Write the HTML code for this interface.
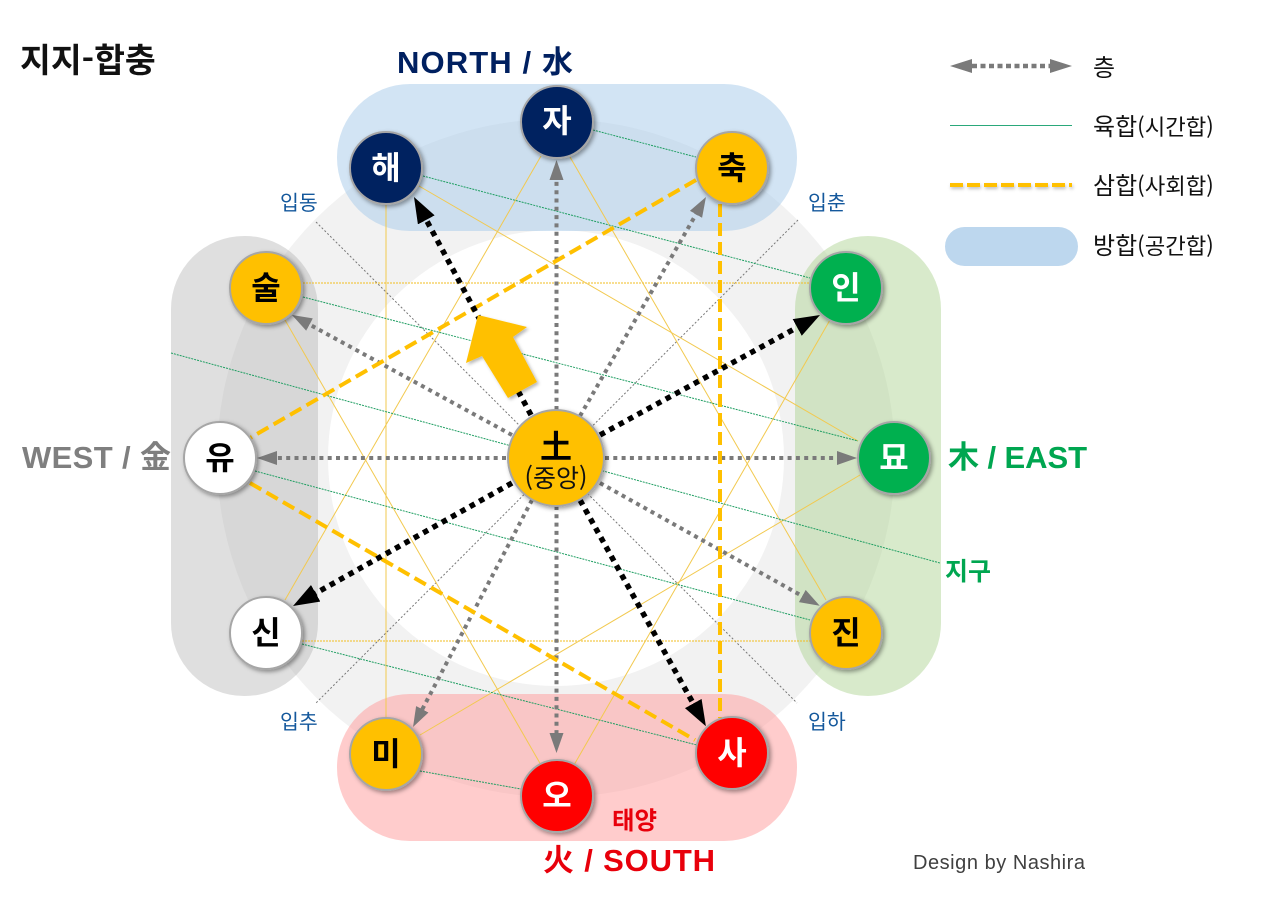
<!DOCTYPE html>
<html lang="ko"><head><meta charset="utf-8"><title>지지-합충</title>
<style>
html,body{margin:0;padding:0;background:#fff;width:1280px;height:921px;overflow:hidden}
svg{display:block}
text{font-family:"Liberation Sans","Noto Sans CJK KR",sans-serif}
.n{font-size:32px;font-weight:700;text-anchor:middle;font-family:"Noto Sans CJK KR",sans-serif}
.l{font-size:20.500px;fill:#14589c;font-family:"Noto Sans CJK KR",sans-serif}
.g{stroke:#1f9e62;stroke-width:1;stroke-dasharray:2 1;fill:none}
.y{stroke:#f2c94f;stroke-width:1;fill:none}
.yd{stroke:#f2bd20;stroke-width:1;stroke-dasharray:2 1;fill:none}
.b{stroke:#ffc000;stroke-width:4;stroke-dasharray:13 6;fill:none}
.d{stroke:#777;stroke-width:1;stroke-dasharray:2 2;fill:none}
.c{stroke:#7a7a7a;stroke-width:4;stroke-dasharray:4 4.300;fill:none}
.k{stroke:#000;stroke-width:5.500;stroke-dasharray:5.500 5.200;fill:none}
.t{font-family:"Noto Sans CJK KR",sans-serif;fill:#111}
</style></head><body>
<svg width="1280" height="921" viewBox="0 0 1280 921" xmlns="http://www.w3.org/2000/svg">
<defs>
<filter id="s" x="-30%" y="-30%" width="170%" height="170%"><feDropShadow dx="2" dy="2" stdDeviation="2" flood-color="#000" flood-opacity=".38"/></filter>
<filter id="a" x="-30%" y="-30%" width="170%" height="170%"><feDropShadow dx="2" dy="2" stdDeviation="1.500" flood-color="#000" flood-opacity=".28"/></filter>
<filter id="la" filterUnits="userSpaceOnUse" x="940" y="170" width="145" height="30"><feDropShadow dx="1" dy="2" stdDeviation="1.500" flood-color="#000" flood-opacity=".25"/></filter>
<marker id="mg" markerUnits="userSpaceOnUse" markerWidth="24" markerHeight="16" refX="2" refY="7" orient="auto"><path d="M0 0L20 7L0 14z" fill="#7a7a7a"/></marker>
<marker id="mk" markerUnits="userSpaceOnUse" markerWidth="30" markerHeight="22" refX="4" refY="9.500" orient="auto"><path d="M0 0L26 9.500L0 19z" fill="#000"/></marker>
</defs>
<rect width="1280" height="921" fill="#fff"/>
<circle cx="556" cy="458" r="339" fill="#f2f2f2"/>
<circle cx="556" cy="458" r="228" fill="#fff"/>

<rect x="337" y="84" width="460" height="147" rx="73" fill="#a9cbe9" fill-opacity=".52"/>
<rect x="337" y="694" width="460" height="147" rx="73" fill="#ff9999" fill-opacity=".5"/>
<rect x="171" y="236" width="147" height="460" rx="73" fill="#a6a6a6" fill-opacity=".36"/>
<rect x="795" y="236" width="146" height="460" rx="73" fill="#a9d18e" fill-opacity=".46"/>

<g class="d">
<path d="M316 222L797 703"/><path d="M798 220L316 703"/>
</g>
<g class="yd"><path d="M303 283H810"/><path d="M302 641H810"/></g>
<g class="y">
<path d="M386 205V718"/>
<path d="M419 186L858 441"/><path d="M860 475L420 735"/>
<path d="M541 156L285 600"/><path d="M570 157L826 600"/>
<path d="M285 320L541 765"/><path d="M830 320L574 765"/>
</g>
<g class="g">
<path d="M593 130L696 157"/><path d="M423 176L810 278"/>
<path d="M303 297L858 441"/><path d="M171 353L940 563"/>
<path d="M255 471L810 620"/><path d="M302 644L697 745"/><path d="M420 771L521 789"/>
</g>

<g class="c">
<path d="M556.500 410V178" marker-end="url(#mg)"/>
<path d="M580 416L697 212.600" marker-end="url(#mg)"/>
<path d="M512 435L307.800 323.600" marker-end="url(#mg)"/>
<path d="M506 458H275" marker-end="url(#mg)"/>
<path d="M605 458H839" marker-end="url(#mg)"/>
<path d="M600 483L804 597" marker-end="url(#mg)"/>
<path d="M532 500L421.400 711" marker-end="url(#mg)"/>
<path d="M556.500 506V735" marker-end="url(#mg)"/>
</g>
<path class="b" d="M696 180L250 438"/>
<path class="b" d="M250 483L695 740"/>
<path class="b" d="M720 204V718"/>
<g class="k">
<path d="M531 415L424.400 216.400" marker-end="url(#mk)"/>
<path d="M600 435L800.700 325.500" marker-end="url(#mk)"/>
<path d="M512 483L312.200 595.200" marker-end="url(#mk)"/>
<path d="M580 500L695.200 707" marker-end="url(#mk)"/>
</g>
<path d="M478 315L527 327L513 337L537 382L508 398L482 356L466 363Z" fill="#ffc000" filter="url(#a)"/>

<g stroke="#a6a6a6" stroke-width="2" filter="url(#s)">
<circle cx="557" cy="122" r="36" fill="#002060"/>
<circle cx="386" cy="168" r="36" fill="#002060"/>
<circle cx="732" cy="168" r="36" fill="#ffc000"/>
<circle cx="266" cy="288" r="36" fill="#ffc000"/>
<circle cx="846" cy="288" r="36" fill="#00b050"/>
<circle cx="220" cy="458" r="36" fill="#fff"/>
<circle cx="894" cy="458" r="36" fill="#00b050"/>
<circle cx="266" cy="633" r="36" fill="#fff"/>
<circle cx="846" cy="633" r="36" fill="#ffc000"/>
<circle cx="386" cy="754" r="36" fill="#ffc000"/>
<circle cx="732" cy="753" r="36" fill="#ff0000"/>
<circle cx="557" cy="796" r="36" fill="#ff0000"/>
<circle cx="556" cy="458" r="48" fill="#ffc000"/>
</g>

<g class="n">
<text x="557" y="132" fill="#fff">자</text>
<text x="386" y="179" fill="#fff">해</text>
<text x="732" y="179" fill="#000">축</text>
<text x="266" y="299" fill="#000">술</text>
<text x="846" y="299" fill="#fff">인</text>
<text x="220" y="469" fill="#000">유</text>
<text x="894" y="469" fill="#fff">묘</text>
<text x="266" y="644" fill="#000">신</text>
<text x="846" y="644" fill="#000">진</text>
<text x="386" y="765" fill="#000">미</text>
<text x="732" y="764" fill="#fff">사</text>
<text x="557" y="807" fill="#fff">오</text>
<text x="556" y="458" fill="#000">土</text>
</g>
<text x="556" y="487" text-anchor="middle" style="font-family:'Noto Sans CJK KR',sans-serif;font-size:25px" fill="#111">(중앙)</text>

<text x="20" y="72" class="t" style="font-size:33.500px;font-weight:700" fill="#000">지지-합충</text>
<text x="397" y="73" style="font-size:31px;font-weight:700" fill="#002060" textLength="176">NORTH / 水</text>
<text x="22" y="468" style="font-size:31px;font-weight:700" fill="#7f7f7f" textLength="149">WEST / 金</text>
<text x="948" y="468" style="font-size:31px;font-weight:700" fill="#00a650" textLength="139">木 / EAST</text>
<text x="543" y="871" style="font-size:31px;font-weight:700" fill="#e8000b" textLength="172">火 / SOUTH</text>
<text x="612" y="829" class="n" style="font-size:24.500px;text-anchor:start" fill="#e8000b">태양</text>
<text x="945" y="580" class="n" style="font-size:25px;text-anchor:start" fill="#00a650">지구</text>
<text x="280" y="210" class="l">입동</text>
<text x="808" y="210" class="l">입춘</text>
<text x="280" y="729" class="l">입추</text>
<text x="808" y="729" class="l">입하</text>
<text x="913" y="869" style="font-size:20px" fill="#404040" textLength="172">Design by Nashira</text>

<path d="M972 66H1052" stroke="#7a7a7a" stroke-width="4.500" stroke-dasharray="5 3.500" fill="none"/>
<path d="M950 66L972 59V73Z M1072 66L1050 59V73Z" fill="#7a7a7a"/>
<rect x="950" y="125" width="122" height="1" fill="#2aa87a"/>
<path d="M950 185H1072" stroke="#ffc000" stroke-width="4" stroke-dasharray="13 4" fill="none" filter="url(#la)"/>
<rect x="945" y="227" width="133" height="39" rx="19.500" fill="#bdd7ee"/>
<text x="1093" y="76" class="t" style="font-size:24px">층</text>
<text x="1093" y="135" class="t" style="font-size:24px">육합<tspan style="font-size:22.300px">(시간합)</tspan></text>
<text x="1093" y="194" class="t" style="font-size:24px">삼합<tspan style="font-size:22.300px">(사회합)</tspan></text>
<text x="1093" y="254" class="t" style="font-size:24px">방합<tspan style="font-size:22.300px">(공간합)</tspan></text>
</svg>
</body></html>
